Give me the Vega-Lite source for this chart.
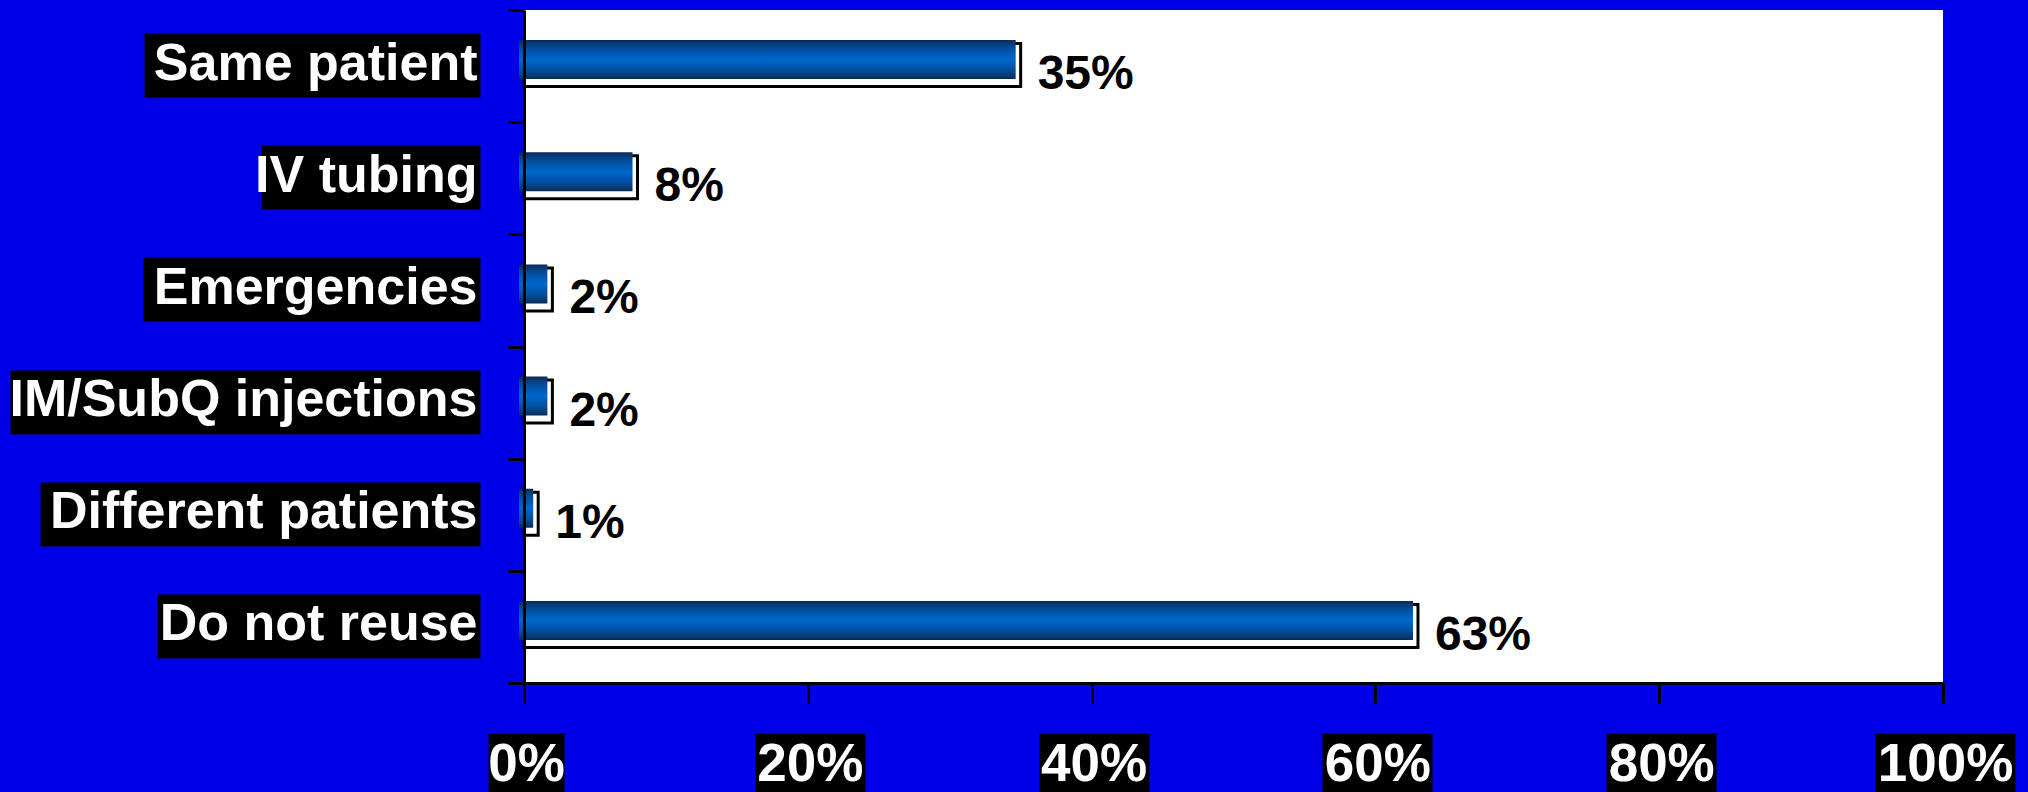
{
  "$schema": "https://vega.github.io/schema/vega-lite/v6.json",
  "width": 1419,
  "height": 673,
  "autosize": {"type": "none"},
  "padding": {"left": 524, "top": 10, "right": 85, "bottom": 109},
  "background": "#0000e8",
  "config": {"view": {"stroke": null, "fill": "white"}, "font": "Liberation Sans"},
  "data": {
    "values": [
      {"category": "Same patient", "share": 0.35},
      {"category": "IV tubing", "share": 0.08},
      {"category": "Emergencies", "share": 0.02},
      {"category": "IM/SubQ injections", "share": 0.02},
      {"category": "Different patients", "share": 0.01},
      {"category": "Do not reuse", "share": 0.63}
    ]
  },
  "layer": [
    {
      "mark": {"type": "bar", "fill": "white", "stroke": "black", "strokeWidth": 3, "height": 43, "yOffset": -1},
      "encoding": {
        "x": {
          "field": "share", "type": "quantitative",
          "scale": {"domain": [0, 1], "nice": false},
          "axis": {
            "orient": "bottom", "values": [0, 0.2, 0.4, 0.6, 0.8, 1], "title": null, "grid": false,
            "domain": false, "labels": false, "ticks": true, "offset": 50, "tickSize": 62, "tickColor": "black", "tickCap": "butt", "tickOffset": 2,
            "tickWidth": {"condition": [{"test": "datum.value === 0", "value": 76}, {"test": "datum.value === 1", "value": 140}], "value": 110}
          }
        },
        "y": {
          "field": "category", "type": "nominal", "sort": null,
          "scale": {"paddingInner": 0, "paddingOuter": 0},
          "axis": {
            "orient": "left", "title": null, "grid": false, "domain": false, "labels": false, "ticks": true,
            "offset": 44, "tickWidth": 64, "tickColor": "black", "tickCap": "butt", "tickOffset": -1, "tickBand": "center",
            "tickSize": {"condition": [
              {"test": "datum.value === 'Same patient'", "value": 336},
              {"test": "datum.value === 'IV tubing'", "value": 219},
              {"test": "datum.value === 'Emergencies'", "value": 337},
              {"test": "datum.value === 'IM/SubQ injections'", "value": 470},
              {"test": "datum.value === 'Different patients'", "value": 440}
            ], "value": 323}
          }
        }
      }
    },
    {
      "mark": {"type": "text", "align": "left", "baseline": "middle", "dx": 17, "dy": 9, "fontSize": 48, "fontWeight": "bold", "font": "Liberation Sans", "color": "black"},
      "encoding": {
        "x": {"field": "share", "type": "quantitative", "axis": null},
        "y": {"field": "category", "type": "nominal", "sort": null, "axis": null},
        "text": {"field": "share", "type": "quantitative", "format": ".0%"}
      }
    },
    {
      "mark": {
        "type": "bar", "height": 39, "yOffset": -6.5, "xOffset": -5, "stroke": null,
        "fill": {
          "gradient": "linear", "x1": 0, "y1": 0, "x2": 0, "y2": 1,
          "stops": [
            {"offset": 0, "color": "#0b2a55"},
            {"offset": 0.12, "color": "#07407f"},
            {"offset": 0.3, "color": "#0056ac"},
            {"offset": 0.5, "color": "#0066cc"},
            {"offset": 0.7, "color": "#0056ac"},
            {"offset": 0.88, "color": "#07407f"},
            {"offset": 1, "color": "#0b2a55"}
          ]
        }
      },
      "encoding": {
        "x": {
          "field": "share", "type": "quantitative",
          "axis": {
            "orient": "bottom", "values": [0, 0.2, 0.4, 0.6, 0.8, 1], "format": ".0%", "title": null, "grid": false,
            "domain": true, "domainColor": "black", "domainWidth": 3,
            "ticks": true, "tickSize": 20, "tickWidth": 3, "tickColor": "black",
            "labelColor": "white", "labelFont": "Liberation Sans", "labelFontSize": 53, "labelFontWeight": "bold",
            "labelPadding": 35, "labelOffset": 2, "labelFlush": false, "labelOverlap": false, "zindex": 1
          }
        },
        "y": {
          "field": "category", "type": "nominal", "sort": null,
          "axis": {
            "orient": "left", "title": null, "grid": false,
            "domain": true, "domainColor": "black", "domainWidth": 3,
            "ticks": true, "tickSize": 16, "tickWidth": 3, "tickColor": "black", "tickBand": "extent",
            "labelColor": "white", "labelFont": "Liberation Sans", "labelFontSize": 52, "labelFontWeight": "bold",
            "labelPadding": 31, "labelOffset": -3, "labelLimit": 1000, "zindex": 1
          }
        }
      }
    }
  ],
  "resolve": {"axis": {"x": "independent", "y": "independent"}}
}
